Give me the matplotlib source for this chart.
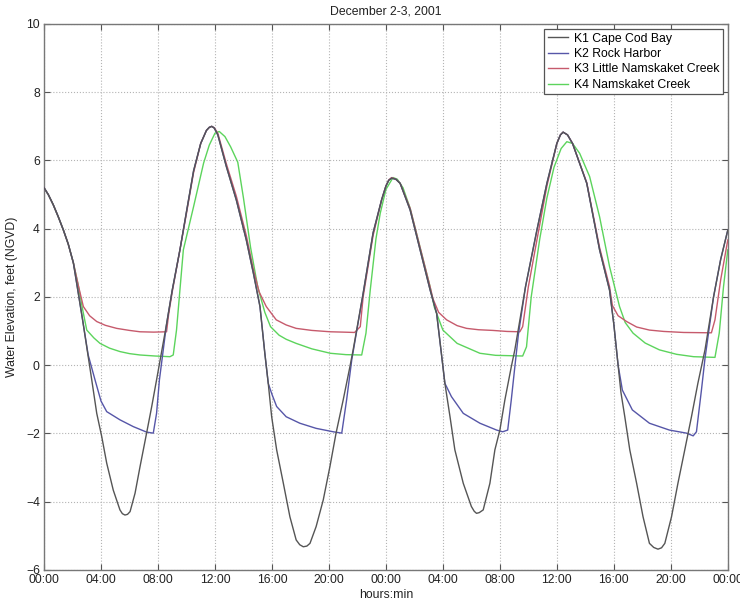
import matplotlib as mpl
mpl.use('Agg')
import matplotlib.pyplot as plt

plt.rcParams['font.family'] = ['Liberation Sans', 'DejaVu Sans']

# hours since 00:00 Dec 2 and water elevation (ft NGVD)
k1_t = [0.0, 0.3, 0.65, 1.0, 1.36, 1.7, 2.06, 2.7, 3.35, 3.7, 4.05, 4.4, 4.86, 5.33,
        5.5, 5.68, 5.86, 6.04, 6.39, 6.74, 7.2, 7.56, 7.9, 8.6, 9.0, 9.54, 10.0,
        10.5, 11.0, 11.4, 11.6, 11.77, 11.95, 12.2, 12.8, 13.5, 14.2, 14.7, 15.16,
        15.5, 15.74, 15.98, 16.33, 16.8, 17.26, 17.7, 17.95, 18.2, 18.45, 18.67,
        19.1, 19.6, 20.07, 20.5, 21.0, 21.47, 21.7, 22.4, 23.1, 23.7, 24.0, 24.2,
        24.4, 24.7, 25.0, 25.7, 26.4, 27.1, 27.56, 27.85, 28.14, 28.5, 28.84,
        29.43, 30.0, 30.2, 30.36, 30.55, 30.83, 31.3, 31.65, 32.0, 32.35, 32.8,
        33.05, 33.8, 34.6, 35.3, 36.0, 36.25, 36.44, 36.75, 37.1, 38.1, 39.0, 39.7,
        40.0, 40.3, 40.5, 40.77, 41.12, 41.6, 42.05, 42.5, 42.8, 43.1, 43.35,
        43.58, 44.05, 44.5, 44.98, 45.45, 45.9, 46.4, 47.0, 47.5, 48.0]
k1_v = [5.2, 5.0, 4.7, 4.35, 3.96, 3.55, 3.0, 1.35, -0.43, -1.41, -2.09, -2.87,
        -3.66, -4.24, -4.35, -4.39, -4.37, -4.29, -3.75, -2.97, -1.99, -1.21,
        -0.43, 1.2, 2.2, 3.38, 4.5, 5.7, 6.5, 6.88, 6.97, 7.0, 6.95, 6.75, 5.82,
        4.84, 3.67, 2.69, 1.72, 0.35, -0.53, -1.51, -2.48, -3.46, -4.44, -5.12,
        -5.26, -5.32, -5.3, -5.22, -4.73, -3.95, -2.97, -1.99, -1.02, -0.05, 0.45,
        2.1, 3.88, 4.85, 5.25, 5.42, 5.48, 5.45, 5.33, 4.55, 3.38, 2.21, 1.52, 0.5,
        -0.53, -1.51, -2.48, -3.46, -4.14, -4.28, -4.34, -4.32, -4.24, -3.46,
        -2.48, -1.9, -1.02, -0.05, 0.45, 2.3, 3.96, 5.33, 6.5, 6.75, 6.83, 6.75,
        6.5, 5.33, 3.38, 2.2, 1.2, 0.0, -0.8, -1.51, -2.48, -3.46, -4.44, -5.22,
        -5.34, -5.39, -5.35, -5.22, -4.44, -3.46, -2.48, -1.51, -0.53, 0.45, 2.0,
        3.1, 3.96]

k2_t = [0.0, 0.3, 0.65, 1.0, 1.36, 1.7, 2.06, 2.7, 3.1, 3.58, 4.0, 4.4, 5.33, 6.27,
        7.2, 7.67, 7.9, 8.1, 8.6, 9.0, 9.54, 10.0, 10.5, 11.0, 11.4, 11.6, 11.77,
        11.95, 12.2, 12.8, 13.5, 14.2, 14.7, 15.16, 15.5, 15.74, 15.98, 16.33,
        17.0, 17.96, 19.1, 20.3, 20.9, 21.24, 21.6, 22.4, 23.1, 23.7, 24.0, 24.2,
        24.4, 24.7, 25.0, 25.7, 26.4, 27.1, 27.56, 27.85, 28.14, 28.6, 29.43,
        30.6, 31.77, 32.2, 32.55, 32.8, 33.05, 33.3, 33.8, 34.6, 35.3, 36.0,
        36.25, 36.44, 36.75, 37.1, 38.1, 39.0, 39.7, 40.0, 40.3, 40.6, 41.3,
        42.5, 43.9, 45.1, 45.57, 45.8, 46.15, 46.4, 47.0, 47.5, 48.0]
k2_v = [5.2, 5.0, 4.7, 4.35, 3.96, 3.55, 3.0, 1.35, 0.3, -0.43, -1.05, -1.36,
        -1.6, -1.8, -1.96, -1.99, -1.41, -0.43, 1.2, 2.2, 3.38, 4.5, 5.7, 6.5,
        6.88, 6.97, 7.0, 6.95, 6.75, 5.82, 4.84, 3.67, 2.69, 1.72, 0.35, -0.53,
        -0.83, -1.21, -1.51, -1.7, -1.85, -1.95, -1.99, -1.02, 0.15, 2.1, 3.88,
        4.85, 5.25, 5.42, 5.48, 5.45, 5.33, 4.55, 3.38, 2.21, 1.52, 0.5, -0.53,
        -0.92, -1.41, -1.7, -1.9, -1.95, -1.9, -1.02, -0.05, 0.9, 2.3, 3.96, 5.33,
        6.5, 6.75, 6.83, 6.75, 6.5, 5.33, 3.38, 2.2, 1.2, 0.0, -0.73, -1.31,
        -1.7, -1.9, -1.99, -2.07, -1.95, -0.73, 0.2, 2.0, 3.1, 3.96]

k3_t = [0.0, 0.3, 0.65, 1.0, 1.36, 1.7, 2.06, 2.4, 2.76, 3.2, 3.7, 4.3, 5.1, 6.0,
        6.74, 7.7, 8.6, 8.75, 9.0, 9.54, 10.0, 10.5, 11.0, 11.4, 11.6, 11.77,
        11.95, 12.2, 12.8, 13.5, 14.2, 14.7, 15.1, 15.6, 16.3, 17.0, 17.7, 18.8,
        20.1, 21.0, 21.8, 22.2, 22.4, 23.1, 23.7, 24.0, 24.2, 24.4, 24.7, 25.0,
        25.7, 26.4, 27.1, 27.3, 27.7, 28.26, 29.0, 29.66, 30.5, 31.5, 32.5, 33.4,
        33.6, 34.0, 34.6, 35.3, 36.0, 36.25, 36.44, 36.75, 37.1, 38.1, 39.0, 39.7,
        39.9, 40.3, 40.9, 41.6, 42.5, 43.5, 44.9, 46.85, 47.1, 47.5, 48.0]
k3_v = [5.2, 5.0, 4.7, 4.35, 3.96, 3.55, 3.0, 2.35, 1.72, 1.45, 1.28, 1.17, 1.08,
        1.02, 0.98, 0.97, 0.98, 1.5, 2.15, 3.38, 4.45, 5.65, 6.5, 6.88, 6.97,
        7.0, 6.96, 6.8, 5.9, 4.95, 3.8, 2.8, 2.15, 1.72, 1.33, 1.18, 1.08, 1.02,
        0.98, 0.97, 0.96, 1.13, 2.0, 3.8, 4.85, 5.25, 5.43, 5.5, 5.45, 5.33, 4.6,
        3.45, 2.3, 1.95, 1.55, 1.33, 1.16, 1.08, 1.04, 1.02, 0.99, 0.98, 1.13,
        2.3, 3.67, 5.25, 6.5, 6.75, 6.83, 6.75, 6.5, 5.35, 3.45, 2.3, 1.75, 1.45,
        1.28, 1.12, 1.03, 0.99, 0.96, 0.95, 1.33, 2.5, 3.67]

k4_t = [0.0, 0.3, 0.65, 1.0, 1.36, 1.7, 2.06, 2.4, 2.7, 3.0, 3.5, 3.93, 4.6, 5.33,
        6.0, 6.74, 7.8, 8.84, 9.07, 9.3, 9.78, 10.5, 11.2, 11.6, 12.0, 12.3,
        12.7, 13.1, 13.6, 14.0, 14.5, 15.0, 15.5, 15.9, 16.5, 17.0, 17.7, 18.8,
        20.1, 21.2, 22.3, 22.6, 22.9, 23.3, 23.6, 24.0, 24.5, 24.8, 25.2, 25.7,
        26.4, 27.1, 27.4, 28.0, 29.0, 30.6, 31.7, 33.6, 33.87, 34.2, 34.8, 35.3,
        35.8, 36.3, 36.7, 37.1, 37.6, 38.3, 39.0, 39.7, 40.4, 40.8, 41.35, 42.2,
        43.2, 44.4, 45.6, 47.1, 47.4, 47.7, 48.0]
k4_v = [5.2, 5.0, 4.7, 4.35, 3.96, 3.55, 3.0, 2.35, 1.65, 1.03, 0.8, 0.64, 0.5,
        0.4, 0.34, 0.3, 0.27, 0.25, 0.3, 1.03, 3.38, 4.65, 5.92, 6.45, 6.8,
        6.85, 6.7, 6.4, 5.95, 4.9, 3.45, 2.3, 1.55, 1.13, 0.88, 0.76, 0.64, 0.48,
        0.35, 0.31, 0.3, 0.94, 2.2, 3.7, 4.45, 5.15, 5.5, 5.45, 5.2, 4.6, 3.45,
        2.3, 1.7, 1.03, 0.64, 0.35, 0.29, 0.27, 0.54, 2.0, 3.7, 4.9, 5.8, 6.35,
        6.55, 6.5, 6.21, 5.53, 4.35, 2.89, 1.72, 1.25, 0.94, 0.65, 0.45, 0.32,
        0.25, 0.23, 0.94, 2.3, 3.38]

labels = ['K1 Cape Cod Bay', 'K2 Rock Harbor', 'K3 Little Namskaket Creek',
          'K4 Namskaket Creek']
colors = ['#555555', '#5656a8', '#c65a6c', '#5cd45c']

xticks = [0, 4, 8, 12, 16, 20, 24, 28, 32, 36, 40, 44, 48]
xticklabels = ['00:00', '04:00', '08:00', '12:00', '16:00', '20:00', '00:00',
               '04:00', '08:00', '12:00', '16:00', '20:00', '00:00']
yticks = [-6, -4, -2, 0, 2, 4, 6, 8, 10]

fig = plt.figure(figsize=(7.4, 6.07), dpi=100)
ax = fig.add_axes([0.0595, 0.061, 0.924, 0.8995])

series = [(k1_t, k1_v), (k2_t, k2_v), (k3_t, k3_v), (k4_t, k4_v)]
zs = [5, 4, 3, 2]
for (t, v), lab, c, z in zip(series, labels, colors, zs):
    ax.plot(t, v, color=c, lw=1.0, label=lab, zorder=z)

ax.set_xlim(0, 48)
ax.set_ylim(-6, 10)
ax.set_xticks(xticks)
ax.set_xticklabels(xticklabels)
ax.set_yticks(yticks)
ax.grid(True, linestyle=':', color='#b4b4b4', lw=0.8)
ax.tick_params(direction='in', length=4, top=True, right=True, labelsize=8.7,
               colors='#555555', labelcolor='#222222', pad=3)
for s in ax.spines.values():
    s.set_color('#777777')
    s.set_linewidth(1.0)

ax.set_title('December 2-3, 2001', fontsize=8.8, pad=7, color='#222222')
ax.set_xlabel('hours:min', fontsize=8.8, labelpad=2, color='#222222')
ax.set_ylabel('Water Elevation, feet (NGVD)', fontsize=8.8, color='#222222',
              labelpad=6)

leg = ax.legend(loc='upper right', fontsize=8.8, handlelength=1.6,
                handletextpad=0.5, labelspacing=0.28, borderpad=0.3,
                borderaxespad=0.4, fancybox=False, framealpha=1.0)
leg.get_frame().set_edgecolor('#555555')
leg.get_frame().set_linewidth(0.9)

fig.savefig('out.png', dpi=100)
plt.close()
